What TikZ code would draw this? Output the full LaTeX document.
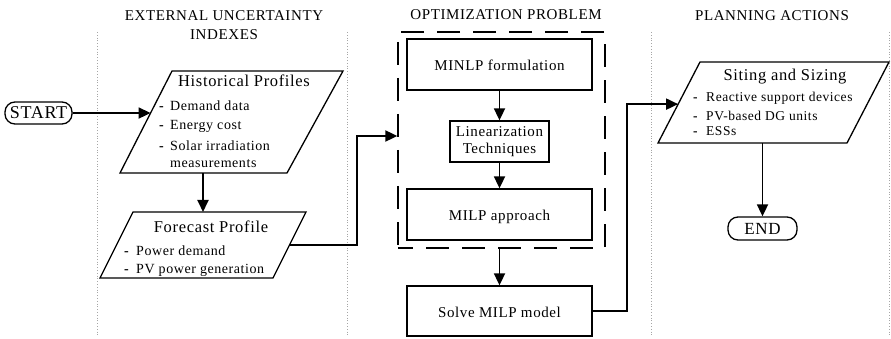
\documentclass[tikz,border=0pt]{standalone}
\usepackage{fontspec}
\setmainfont{Liberation Serif}[LetterSpace=4]
\usetikzlibrary{arrows.meta,calc}
\newcommand\fsz[1]{\fontsize{#1}{17}\selectfont}
\newcommand\bl[1]{\makebox[#1][l]{\bfseries -}}
\begin{document}
\begin{tikzpicture}[x=1pt,y=-1pt,
  arr/.style={line width=1.8pt,-{Triangle[length=12pt,width=11pt]}},
  para/.style={draw,line width=1.3pt,line join=miter},
  box/.style={draw,line width=1.3pt,rectangle,inner sep=0pt,font=\fsz{15},text height=12pt,text depth=0pt},
  term/.style={draw,line width=1.3pt,rectangle,rounded corners=10pt,inner sep=0pt},
  ttl/.style={inner sep=0pt,anchor=base,font=\fsz{15}},
  head/.style={inner sep=0pt,anchor=base,font=\fsz{16.5}},
  item/.style={inner sep=0pt,anchor=base west,font=\fsz{14}},
  sep/.style={draw=gray!70,dotted,line width=0.8pt}
]
\useasboundingbox (0,0) rectangle (891,339);
% separators
\draw[sep] (97,32) -- (97,335);
\draw[sep] (347,32) -- (347,335);
\draw[sep] (651,32) -- (651,335);
\draw[sep] (889,32) -- (889,335);
% column titles
\node[ttl] (t1a) at (224,21) {EXTERNAL UNCERTAINTY};
\node[ttl] (t1b) at (224,40) {INDEXES};
\node[ttl] (t2) at (506,20) {OPTIMIZATION PROBLEM};
\node[ttl] (t3) at (772,21) {PLANNING ACTIONS};
% start
\node[term,minimum width=67pt,minimum height=22pt,font=\fsz{18}] (start) at (38.5,113) {START};
% historical profiles
\draw[para] (120,173) coordinate (hbl) -- (172,71) coordinate (htl) -- (343,71) coordinate (htr) -- (287,173) coordinate (hbr) -- cycle;
\node[head] (histt) at (244,87) {Historical Profiles};
\node[item] (h1) at (159,111) {\bl{11pt}Demand data};
\node[item] (h2) at (159,130) {\bl{11pt}Energy cost};
\node[item] (h3) at (159,151) {\bl{11pt}Solar irradiation};
\node[item] (h4) at (170,168) {measurements};
% forecast profile
\draw[para] (100,278) coordinate (fbl) -- (133,212) coordinate (ftl) -- (306,212) coordinate (ftr) -- (273,278) coordinate (fbr) -- cycle;
\node[head] (fct) at (211,233) {Forecast Profile};
\node[item] (f1) at (124,255) {\bl{12pt}Power demand};
\node[item] (f2) at (124,273) {\bl{12pt}PV power generation};
% optimization problem
\node[draw,line width=1.3pt,dash pattern=on 23pt off 13pt,dash phase=8pt,minimum width=207pt,minimum height=216pt,inner sep=0pt] (opt) at (501.5,140) {};
\node[box,minimum width=185pt,minimum height=51pt] (minlp) at (499.5,64.5) {MINLP formulation};
\node[draw,line width=1.3pt,inner sep=0pt,minimum width=99pt,minimum height=41pt,align=center,font=\fsz{15}] (lin) at (499.5,141.5) {Linearization\\Techniques};
\node[box,minimum width=185pt,minimum height=51pt] (milp) at (499.5,214.5) {MILP approach};
\node[box,minimum width=185pt,minimum height=50pt] (solve) at (499.5,311) {Solve MILP model};
% siting and sizing
\draw[para] (658,143) coordinate (sbl) -- (700,62) coordinate (stl) -- (889,62) coordinate (str) -- (847,143) coordinate (sbr) -- cycle;
\node[head] (sitt) at (785,81) {Siting and Sizing};
\node[item,font=\fsz{13.5}] (s1) at (693,101.5) {\bl{13pt}Reactive support devices};
\node[item,font=\fsz{13.5}] (s2) at (693,120.5) {\bl{13pt}PV-based DG units};
\node[item,font=\fsz{13.5}] (s3) at (693,136) {\bl{13pt}ESSs};
% end
\node[term,minimum width=69pt,minimum height=23pt,font=\fsz{17}] (endn) at (762.5,228.5) {END};
% connectors
\coordinate (histin) at ($(hbl)!0.588!(htl)$);
\draw[arr] (start.east) -- (histin);
\coordinate (hout) at (203,173);
\coordinate (fin) at (203,212);
\draw[arr] (hout) -- (fin);
\coordinate (fout) at ($(fbr)!0.5!(ftr)$);
\draw[arr] (fout) -- ++(67.5,0) |- ([yshift=4pt]opt.west);
\draw[arr] (minlp) -- (lin);
\draw[arr] (lin) -- (milp);
\draw[arr] (solve.north |- opt.south) -- (solve.north);
\coordinate (sitin) at ($(sbl)!0.48!(stl)$);
\draw[arr] (solve.east) -- ++(34,0) |- (sitin);
\coordinate (sout) at (endn.north |- sbl);
\draw[arr] (sout) -- (endn.north);
\end{tikzpicture}
\end{document}
